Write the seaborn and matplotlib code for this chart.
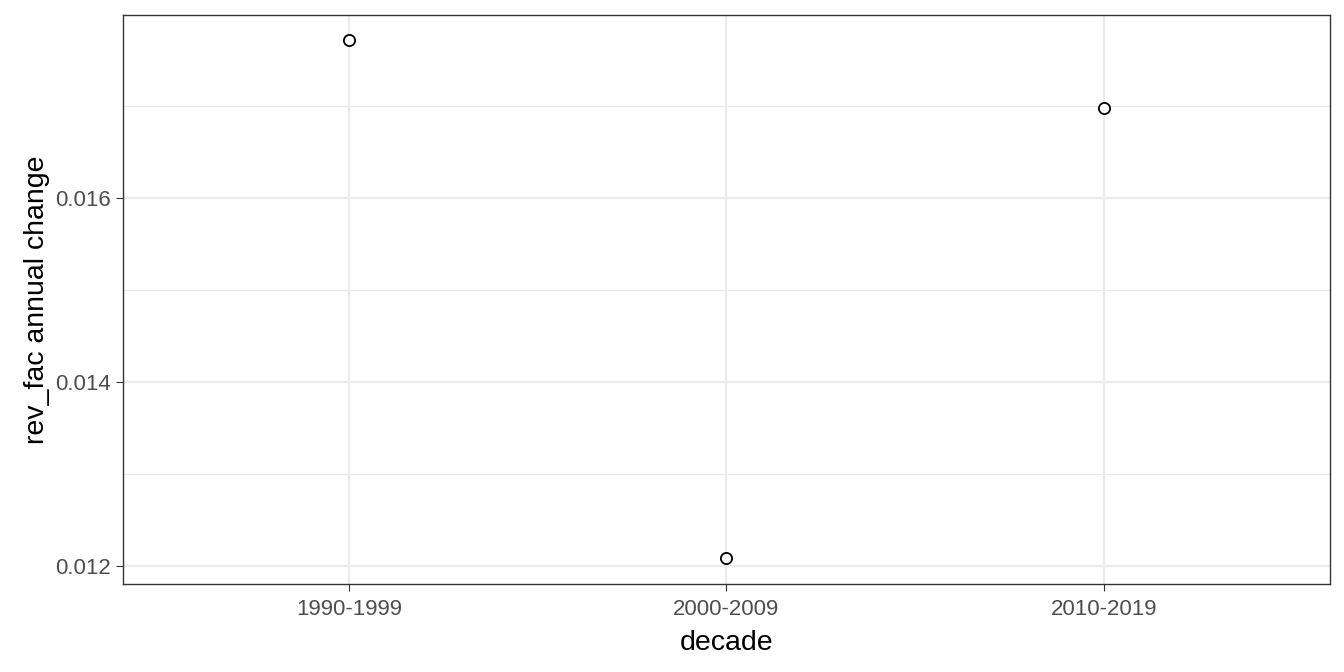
import numpy as np
import pandas as pd
import seaborn as sns
import matplotlib.pyplot as plt

# values
decades = ["1990-1999", "2000-2009", "2010-2019"]
annual_change = [0.017717, 0.012087, 0.016978]

df = pd.DataFrame({"decade": decades, "rev_fac annual change": annual_change})

sns.set_style("white")
plt.rcParams['font.family'] = ['Liberation Sans', 'DejaVu Sans']

fig = plt.figure(figsize=(13.44, 6.72), dpi=100)
ax = fig.add_axes([0.0915, 0.131, 0.8981, 0.8467])

sns.scatterplot(data=df, x="decade", y="rev_fac annual change", ax=ax,
                s=65, facecolor="white", edgecolor="black", linewidth=1.3, zorder=3)

ax.set_xlim(-0.6, 2.6)
ax.set_ylim(0.011804, 0.01799)
ax.set_yticks([0.012, 0.014, 0.016])
ax.set_yticks([0.013, 0.015, 0.017], minor=True)
ax.yaxis.set_major_formatter(plt.FuncFormatter(lambda v, p: f"{v:.3f}"))

ax.grid(True, which="major", color="#ebebeb", linewidth=1.6)
ax.grid(True, which="minor", axis="y", color="#ebebeb", linewidth=0.8)
ax.set_axisbelow(True)
for sp in ax.spines.values():
    sp.set_color("#333333")
    sp.set_linewidth(1.0)

ax.tick_params(axis="both", which="major", length=5, color="#333333",
               labelsize=16, labelcolor="#4d4d4d", bottom=True, left=True)
ax.tick_params(axis="x", which="major", pad=6)
ax.tick_params(axis="y", which="minor", length=0)
ax.set_xlabel("decade", fontsize=20.5, color="black", labelpad=7)
ax.set_ylabel("rev_fac annual change", fontsize=20.5, color="black")

fig.savefig("out.png", dpi=100)
